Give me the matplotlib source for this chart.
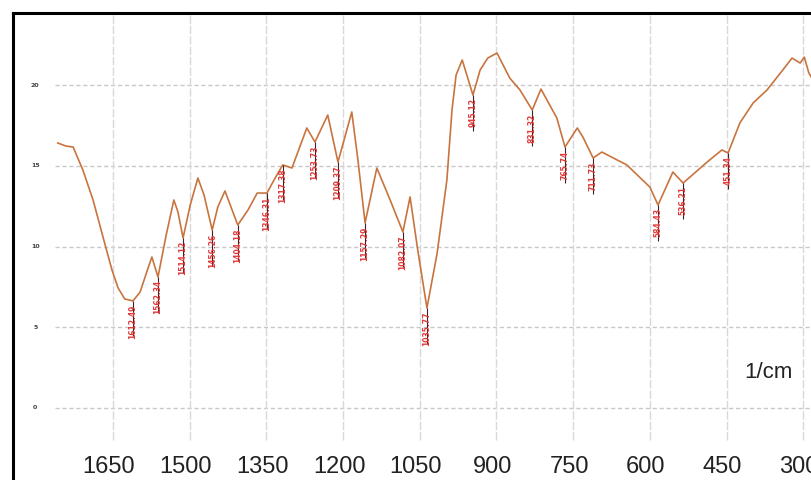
import matplotlib.pyplot as plt
from matplotlib.transforms import offset_copy

# spectrum (wavenumber in 1/cm, transmittance)
wavenumber = [1758, 1742, 1728, 1709, 1689, 1668, 1652, 1640, 1627, 1611,
              1597, 1584, 1574, 1562, 1546, 1531, 1523, 1513, 1499, 1484,
              1472, 1456, 1445, 1431, 1406, 1386, 1368, 1349, 1335, 1318,
              1300, 1271, 1255, 1230, 1210, 1183, 1171, 1157, 1134, 1108,
              1083, 1069, 1054, 1036, 1016, 997, 987, 979, 967, 958,
              946, 932, 917, 899, 874, 854, 830, 813, 782, 766,
              742, 731, 711, 694, 645, 600, 584, 555, 535, 488,
              459, 447, 424, 398, 371, 340, 322, 306, 298, 289, 283]
transmittance = [16.41, 16.22, 16.16, 14.74, 12.88, 10.40, 8.54, 7.43, 6.75, 6.63,
                 7.18, 8.42, 9.35, 8.11, 10.71, 12.88, 12.14, 10.53, 12.57, 14.24,
                 13.19, 11.02, 12.45, 13.44, 11.33, 12.26, 13.31, 13.31, 14.12, 15.05,
                 14.86, 17.34, 16.47, 18.14, 15.23, 18.33, 15.36, 11.46, 14.86, 12.88,
                 10.90, 13.07, 9.78, 6.19, 9.60, 14.12, 18.45, 20.62, 21.55, 20.62,
                 19.38, 20.93, 21.67, 21.98, 20.43, 19.69, 18.45, 19.75, 17.96, 16.16,
                 17.34, 16.78, 15.48, 15.85, 15.05, 13.68, 12.57, 14.61, 13.93, 15.23,
                 15.98, 15.79, 17.65, 18.89, 19.69, 20.93, 21.67, 21.36, 21.73, 20.74, 20.43]

# labelled peaks
peak_wn = [1611, 1562, 1513, 1456, 1406, 1349, 1318, 1255, 1210, 1157,
           1083, 1036, 946, 830, 766, 711, 584, 535, 447]
peak_t = [6.63, 8.11, 10.53, 11.02, 11.33, 13.31, 15.05, 16.47, 15.23, 11.46,
          10.90, 6.19, 19.38, 18.45, 16.16, 15.48, 12.57, 13.93, 15.79]
peak_labels = ["1612.49", "1562.34", "1514.12", "1456.26", "1404.18", "1346.31",
               "1317.38", "1253.73", "1209.37", "1157.29", "1082.07", "1035.77",
               "945.12", "831.32", "765.74", "711.73", "584.43", "536.21", "451.34"]

x_ticks = [1650, 1500, 1350, 1200, 1050, 900, 750, 600, 450, 300]
y_ticks = [0, 5, 10, 15, 20]

fig = plt.figure(figsize=(8.12, 4.80), dpi=100)
ax = fig.add_axes([13 / 812, 0, 1 - 13 / 812, 467 / 480])
ax.set_xlim(1845.6, 282.9)
ax.set_ylim(-4.46, 24.46)
ax.set_xticks([])
ax.set_yticks([])
for side in ["right", "bottom"]:
    ax.spines[side].set_visible(False)
for side in ["left", "top"]:
    ax.spines[side].set_linewidth(2.2)
    ax.spines[side].set_color("black")

# grid
ax.hlines(y_ticks, 1763, 282.9, colors="#c8c8c8", linewidth=1,
          linestyles=(0, (3, 2)), zorder=1)
ax.vlines(x_ticks, -1.98, 24.46, colors="#d8d8d8", linewidth=1,
          linestyles=(0, (6, 1.5)), zorder=1)

# spectrum
ax.plot(wavenumber, transmittance, color="#c8743f", linewidth=1.2, zorder=3)

# peak markers and labels
for w, t, lab in zip(peak_wn, peak_t, peak_labels):
    ax.vlines(w, t - 2.2, t, colors="#402020", linewidth=0.8, zorder=4)
    ax.text(w, t - 0.2, lab, rotation=90, ha="center", va="top",
            fontsize=5.5, color="#e03a3a", fontweight="bold", zorder=5)

# tick labels
lab_tr = offset_copy(ax.transData, fig=fig, x=-4, y=0, units="dots")
for xt in x_ticks:
    ax.text(xt, -3.65, str(xt), transform=lab_tr, ha="center", va="center",
            fontsize=17, family="Liberation Sans", color="#222222")
for yt in y_ticks:
    ax.text(1802, yt, str(yt), ha="center", va="center",
            fontsize=4.5, fontweight="bold", color="#444444")

ax.text(368, 2.2, "1/cm", ha="center", va="center", fontsize=16,
        family="Liberation Sans", color="#222222")

fig.savefig("out.png", dpi=100)
